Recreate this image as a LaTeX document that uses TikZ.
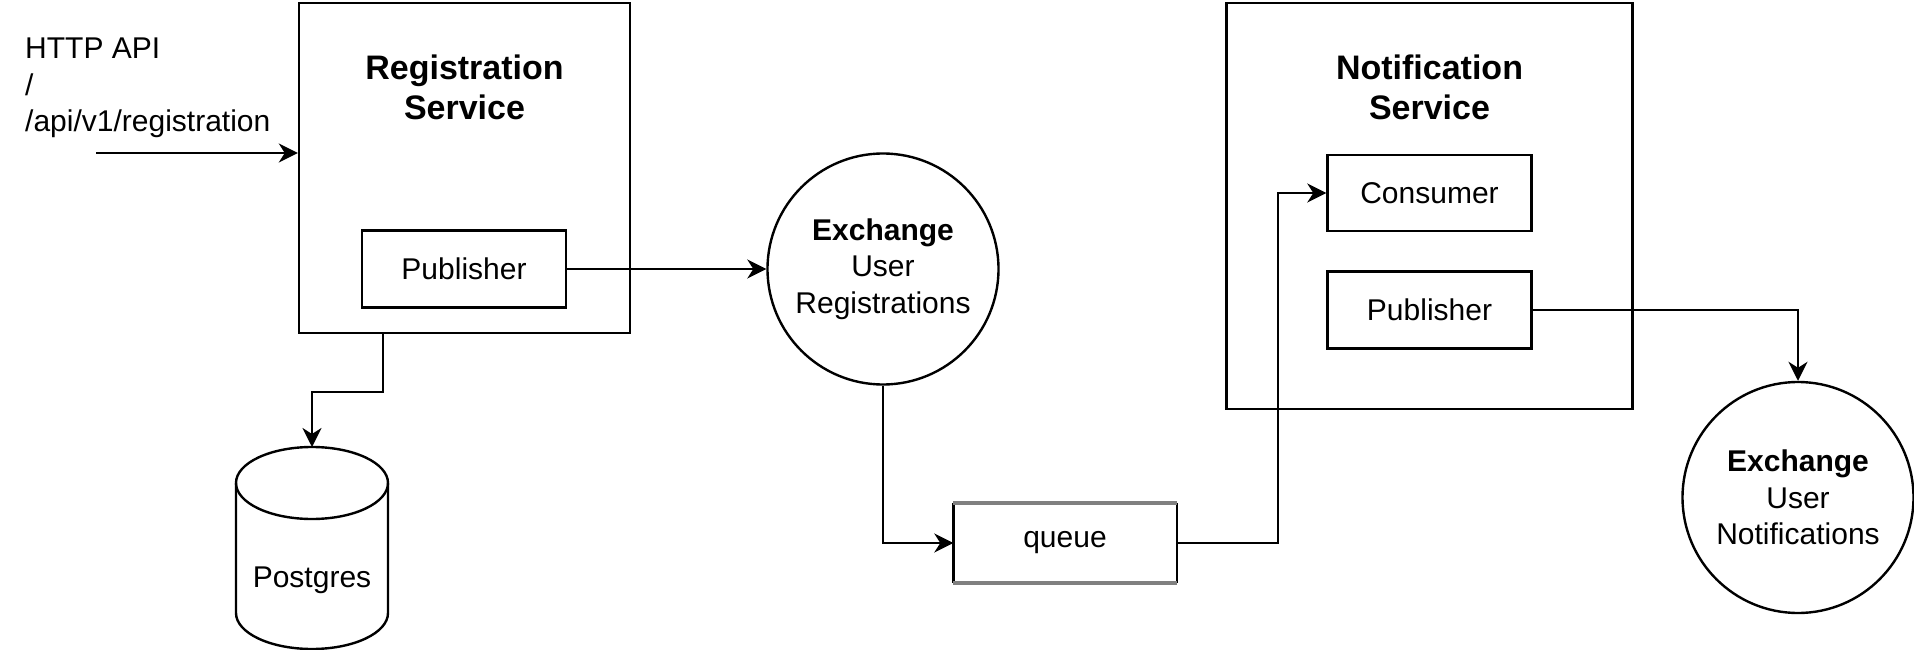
\documentclass[tikz,border=0pt]{standalone}
\usepackage{fontspec}
\setmainfont{Liberation Sans}
\usetikzlibrary{positioning,arrows.meta,calc}

\begin{document}
\begin{tikzpicture}[x=1pt,y=-1pt,>={Stealth[length=19pt,width=19pt,inset=6pt]},line width=2.4pt,
  font=\fontsize{30}{36.6}\selectfont,
  svcbox/.style={draw,rectangle,inner sep=0pt},
  comp/.style={draw,rectangle,inner sep=0pt,minimum width=204pt,minimum height=77pt},
  exch/.style={draw,circle,inner sep=0pt,minimum size=231pt,align=center},
  svctitle/.style={font=\fontsize{34}{40}\selectfont\bfseries,align=center}]
\useasboundingbox (0,0) rectangle (1914,650);

\node (api) [anchor=west,align=left,inner sep=0pt] at (24,88) {HTTP API\\/\\/api/v1/registration};
\node (reg) [svcbox,minimum width=331pt,minimum height=330pt] at (464.5,168) {};
\node (regtitle) [svctitle] at (464.5,87) {Registration\\Service};
\node (pub1) [comp] at (464,269) {Publisher};
\node (exch1) [exch] at (883,269) {\textbf{Exchange}\\User\\Registrations};

\node (db) at (312,580) {Postgres};
\coordinate (dbtop) at (312,447);
\draw (236,483) -- (236,613) arc[start angle=180,end angle=360,x radius=76pt,y radius=36pt] -- (388,483);
\draw (312,483) ellipse [x radius=76pt,y radius=36pt];

\node (queue) [minimum width=221pt,minimum height=78pt,inner sep=0pt] at (1065,543) {queue};
\draw (queue.north west) -- (queue.south west) (queue.north east) -- (queue.south east);
\draw[gray,line width=3.6pt] (queue.north west) -- (queue.north east) (queue.south west) -- (queue.south east);

\node (notif) [svcbox,minimum width=406pt,minimum height=406pt] at (1429.5,206) {};
\node (notiftitle) [svctitle] at (1429.5,87) {Notification\\Service};
\node (cons) [comp,minimum height=76pt] at (1429.5,193) {Consumer};
\node (pub2) [comp,below=38pt of cons] {Publisher};
\node (exch2) [exch] at (1798,497.5) {\textbf{Exchange}\\User\\Notifications};

% connectors
\coordinate (apiin) at (96,153);
\draw[->] (apiin) -- (apiin -| reg.west);
\draw[->] (pub1.east) -- (exch1.west);
\draw[->] ([xshift=-81.5pt]reg.south) -- ++(0,57.7) -| (dbtop);
\draw[->] (exch1.south) |- (queue.west);
\draw[->] (queue.east) -- ++(101.5,0) |- (cons.west);
\draw[->] (pub2.east) -| (exch2.north);
\end{tikzpicture}
\end{document}
